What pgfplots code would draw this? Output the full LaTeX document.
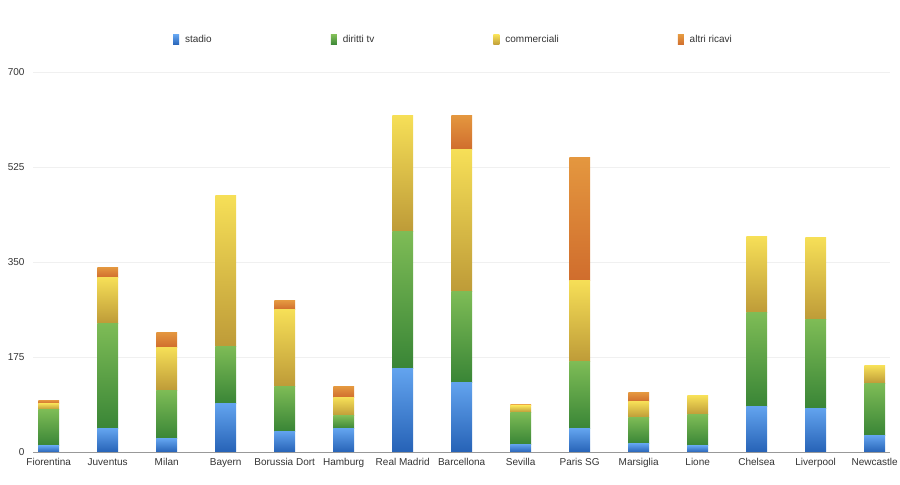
\documentclass[border=0pt]{standalone}
\usepackage{pgfplots}
\pgfplotsset{compat=1.18}
\usepackage{fontspec}
\setmainfont{Liberation Sans}
\definecolor{txt}{HTML}{333333}
\definecolor{bluet}{HTML}{62A3EE}
\definecolor{blueb}{HTML}{2662B6}
\definecolor{greent}{HTML}{7EBC56}
\definecolor{greenb}{HTML}{398536}
\definecolor{yelt}{HTML}{F6DF57}
\definecolor{yelb}{HTML}{BE9B38}
\definecolor{orat}{HTML}{E4973F}
\definecolor{orab}{HTML}{D06D2D}
\pgfplotsset{
  base/.style={
    at={(33bp,32.7bp)}, anchor=south west,
    scale only axis, width=857bp, height=380bp,
    ybar stacked, bar width=20.7bp,
    xmin=-0.266, xmax=14.26, ymin=0, ymax=700,
  },
  sS/.style={draw=none, top color=bluet, bottom color=blueb},
  sD/.style={draw=none, top color=greent, bottom color=greenb},
  sC/.style={draw=none, top color=yelt, bottom color=yelb},
  sA/.style={draw=none, top color=orat, bottom color=orab},
}
% one team (its own overlaid axis): x, stadio, diritti tv, commerciali, altri ricavi
\newcommand\team[5]{%
  \begin{axis}[base, hide axis]
  \addplot[sS] coordinates {(#1,#2)};
  \addplot[sD] coordinates {(#1,#3)};
  \addplot[sC] coordinates {(#1,#4)};
  \addplot[sA] coordinates {(#1,#5)};
  \end{axis}%
}
\begin{document}
\begin{tikzpicture}
\path[use as bounding box] (0,0) rectangle (900bp,485bp);
\begin{axis}[
  base,
  ytick={0,175,350,525,700},
  xtick={0,...,14},
  xticklabels={Fiorentina,Juventus,Milan,Bayern,Borussia Dort,Hamburg,Real Madrid,Barcellona,Sevilla,Paris SG,Marsiglia,Lione,Chelsea,Liverpool,Newcastle},
  axis lines*=left,
  x axis line style={draw=none},
  y axis line style={draw=none},
  major tick length=0pt,
  ymajorgrids, grid style={draw=gray!12, line width=0.8bp},
  tick label style={font=\fontsize{10bp}{12bp}\selectfont, text=txt},
  /pgf/number format/assume math mode=true,
  xticklabel style={yshift=-2bp, text height=8bp, text depth=2.5bp},
  yticklabel style={xshift=-5bp},
  legend columns=4,
  legend style={draw=none, at={(0.4907,1.085)}, anchor=center,
    font=\fontsize{10bp}{12bp}\selectfont, text=txt,
    /tikz/every even column/.append style={column sep=117bp},
    /tikz/every odd column/.append style={column sep=4bp}},
  legend image code/.code={\path[#1] (0bp,-5bp) rectangle (6bp,5bp);},
]
\addplot[sS] coordinates {(0,12)};
\addlegendentry{stadio}
\addplot[sD] coordinates {(0,67)};
\addlegendentry{diritti tv}
\addplot[sC] coordinates {(0,11)};
\addlegendentry{commerciali}
\addplot[sA] coordinates {(0,6)};
\addlegendentry{altri ricavi}
\end{axis}
\team{1}{43}{195}{84}{19}
\team{2}{24.5}{90}{79}{28}
\team{3}{89.5}{106}{277}{0}
\team{4}{39}{83}{141}{16}
\team{5}{43}{24}{34}{20}
\team{6}{153.5}{254}{213}{0}
\team{7}{129}{167.5}{261}{63.5}
\team{8}{15}{59}{11.5}{2.5}
\team{9}{43}{124}{150}{226}
\team{10}{16}{48.5}{29}{16.5}
\team{11}{12}{57}{35}{0}
\team{12}{84}{173}{140}{0}
\team{13}{81.5}{163}{151}{0}
\team{14}{30.5}{97}{32}{0}
\begin{axis}[base, axis lines*=left, y axis line style={draw=none},
  x axis line style={draw=gray!80, line width=1.3bp},
  xtick=\empty, ytick=\empty]
\addplot[draw=none, forget plot] coordinates {(0,0)};
\end{axis}
\end{tikzpicture}
\end{document}
